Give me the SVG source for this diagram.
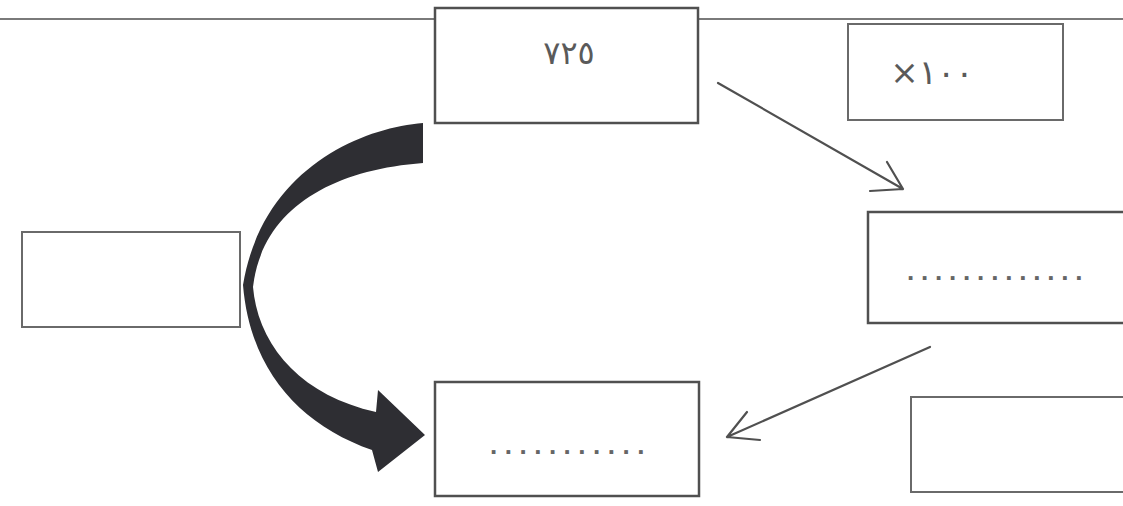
<svg xmlns="http://www.w3.org/2000/svg" width="1123" height="506" viewBox="0 0 1123 506">
<style>
.box{fill:#fff;stroke:#505050;stroke-width:2.5}
.thin{fill:#fff;stroke:#6a6a6a;stroke-width:2}
.rule{stroke:#7a7a7a;stroke-width:2}
.lbl{font-family:"DejaVu Sans",sans-serif;fill:#5a5a5a;text-anchor:middle}
.dots{font-family:"Liberation Sans",sans-serif;font-size:26px;font-weight:bold;fill:#666}
.conn{fill:none;stroke:#505050;stroke-width:2.2;stroke-linecap:round;stroke-linejoin:round}
</style>
<rect width="1123" height="506" fill="#fff"/>
<line class="rule" x1="0" y1="19" x2="435" y2="19"/>
<line class="rule" x1="698" y1="19" x2="1123" y2="19"/>
<g id="connectors">
<path class="conn" d="M718 83 L903 189 M887 162 L903 189 L870 191"/>
<path class="conn" d="M930 347 L727 437 M747 412 L727 437 L760 440"/>
<path fill="#2e2e33" d="M423 123 C360 128 262 170 243 285 C250 370 300 425 372 450 L378 472 L425 435 L378 390 L376 412 C300 395 258 345 253 287 C262 210 330 170 423 163 Z"/>
</g>
<g id="n725">
<rect class="box" x="435" y="8" width="263" height="115"/>
<text class="lbl" x="569" y="64" font-size="32" letter-spacing="6">٧٢٥</text>
</g>
<g id="nx100">
<rect class="thin" x="848" y="24" width="215" height="96"/>
<text class="lbl" x="932" y="84" font-size="34">×١٠٠</text>
</g>
<g id="nright">
<rect class="box" x="868" y="212" width="262" height="111"/>
<text class="dots" x="907" y="280" letter-spacing="6.8">.............</text>
</g>
<g id="nbottom">
<rect class="box" x="435" y="382" width="264" height="114"/>
<text class="dots" x="490" y="454" letter-spacing="7.5">...........</text>
</g>
<g id="nleft">
<rect class="thin" x="22" y="232" width="218" height="95"/>
</g>
<g id="nbottomright">
<rect class="thin" x="911" y="397" width="220" height="95"/>
</g>
</svg>
